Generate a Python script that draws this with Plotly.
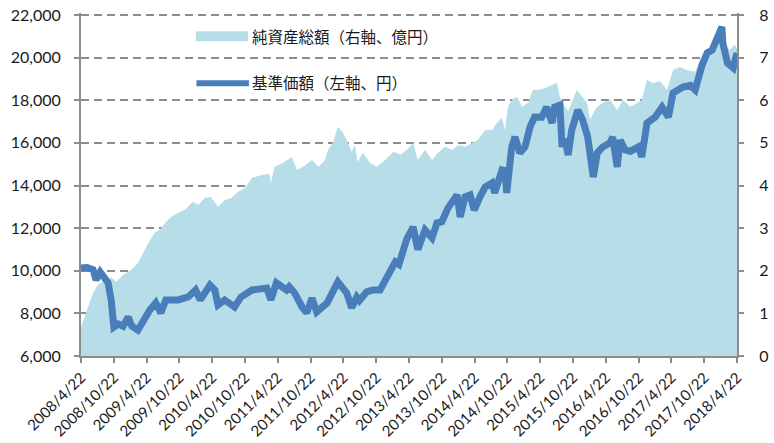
import plotly.graph_objects as go

# 基準価額 (left axis, 円)
nav_dates = [
    "2008-04-22", "2008-05-25", "2008-06-28", "2008-07-15", "2008-08-07", "2008-09-20",
    "2008-10-07", "2008-10-22", "2008-11-15", "2008-12-12", "2009-01-10", "2009-01-30",
    "2009-03-05", "2009-04-12", "2009-05-10", "2009-06-12", "2009-07-10", "2009-08-07",
    "2009-10-15", "2009-12-10", "2010-01-20", "2010-02-15", "2010-04-10", "2010-05-07",
    "2010-05-25", "2010-07-01", "2010-08-25", "2010-09-30", "2010-11-30", "2011-02-20",
    "2011-03-15", "2011-04-15", "2011-06-10", "2011-06-25", "2011-07-25", "2011-09-05",
    "2011-10-01", "2011-10-30", "2011-11-25", "2012-01-22", "2012-02-25", "2012-03-22",
    "2012-05-10", "2012-06-07", "2012-07-05", "2012-07-20", "2012-08-30", "2012-10-02",
    "2012-11-12", "2012-12-22", "2013-02-05", "2013-02-25", "2013-03-20", "2013-04-10",
    "2013-05-15", "2013-06-10", "2013-07-20", "2013-08-28", "2013-09-25", "2013-10-22",
    "2013-11-25", "2014-01-15", "2014-02-01", "2014-02-28", "2014-03-28", "2014-04-20",
    "2014-05-22", "2014-06-20", "2014-07-28", "2014-08-12", "2014-09-22", "2014-10-08",
    "2014-10-18", "2014-11-15", "2014-12-03", "2014-12-30", "2015-01-28", "2015-02-25",
    "2015-03-22", "2015-05-01", "2015-05-28", "2015-06-28", "2015-07-12", "2015-08-10",
    "2015-08-22", "2015-09-07", "2015-09-25", "2015-10-15", "2015-11-18", "2015-12-15",
    "2016-01-12", "2016-02-05", "2016-02-12", "2016-03-05", "2016-04-05", "2016-05-15",
    "2016-05-30", "2016-06-24", "2016-07-10", "2016-08-07", "2016-09-05", "2016-10-20",
    "2016-11-08", "2016-12-07", "2017-01-22", "2017-03-01", "2017-04-05", "2017-05-01",
    "2017-06-25", "2017-08-05", "2017-09-01", "2017-10-10", "2017-11-07", "2017-12-05",
    "2018-01-01", "2018-01-28", "2018-02-02", "2018-02-28", "2018-04-01", "2018-04-22",
]
nav_values = [
    10130, 10150, 10050, 9570, 9940, 9430,
    8630, 7360, 7500, 7400, 7830, 7400,
    7220, 7830, 8160, 8490, 8020, 8630,
    8630, 8770, 9100, 8630, 9330, 9100,
    8400, 8630, 8300, 8770, 9100, 9190,
    8630, 9430, 9100, 9250, 8960, 8300,
    8020, 8720, 8070, 8490, 9100, 9480,
    8960, 8260, 8770, 8600, 9010, 9100,
    9100, 9710, 10420, 10300, 10840, 11500,
    12050, 11000, 11910, 11540, 12240, 12300,
    12940, 13560, 12520, 13470, 13560, 12850,
    13470, 13930, 14120, 13650, 14730, 14700,
    13650, 15810, 16280, 15530, 15810, 16750,
    17210, 17200, 17680, 16930, 17680, 17770,
    15810, 16200, 15430, 16610, 17540, 17070,
    16280, 14870, 14400, 15530, 15810, 16000,
    16280, 14870, 16130, 15670, 15600, 15810,
    15340, 16930, 17210, 17680, 17210, 18340,
    18620, 18700, 18480, 19660, 20220, 20360,
    20970, 21440, 20690, 19750, 19520, 20220,
]

# 純資産総額 (right axis, 億円)
aum_dates = [
    "2008-04-22", "2008-06-01", "2008-06-28", "2008-07-25", "2008-08-22", "2008-10-07",
    "2008-11-03", "2008-12-12", "2009-01-25", "2009-03-05", "2009-04-01", "2009-05-01",
    "2009-06-07", "2009-07-05", "2009-08-03", "2009-09-05", "2009-10-15", "2009-11-22",
    "2010-01-05", "2010-02-05", "2010-03-12", "2010-04-15", "2010-05-25", "2010-07-01",
    "2010-08-05", "2010-09-12", "2010-10-22", "2010-11-30", "2011-01-30", "2011-03-08",
    "2011-03-15", "2011-04-05", "2011-05-20", "2011-07-10", "2011-08-07", "2011-09-10",
    "2011-10-30", "2011-12-05", "2012-01-10", "2012-01-28", "2012-02-25", "2012-03-22",
    "2012-04-18", "2012-05-10", "2012-06-07", "2012-06-25", "2012-07-10", "2012-08-08",
    "2012-09-18", "2012-10-25", "2012-11-28", "2012-12-28", "2013-01-25", "2013-03-05",
    "2013-04-10", "2013-05-15", "2013-06-10", "2013-07-20", "2013-08-28", "2013-09-30",
    "2013-11-08", "2013-12-18", "2014-01-22", "2014-02-28", "2014-04-07", "2014-05-10",
    "2014-06-20", "2014-07-28", "2014-08-25", "2014-09-22", "2014-10-08", "2014-10-25",
    "2014-11-15", "2014-12-15", "2015-01-12", "2015-02-15", "2015-03-12", "2015-04-10",
    "2015-05-20", "2015-06-28", "2015-07-25", "2015-08-10", "2015-09-07", "2015-09-25",
    "2015-10-15", "2015-11-12", "2015-12-10", "2016-01-08", "2016-01-25", "2016-02-12",
    "2016-03-05", "2016-04-05", "2016-05-15", "2016-06-24", "2016-07-25", "2016-09-05",
    "2016-10-15", "2016-11-08", "2016-12-07", "2017-01-10", "2017-02-18", "2017-03-28",
    "2017-05-01", "2017-06-08", "2017-07-15", "2017-09-01", "2017-09-28", "2017-11-07",
    "2017-12-05", "2018-01-01", "2018-01-28", "2018-02-15", "2018-03-12", "2018-04-10",
    "2018-04-22",
]
aum_values = [
    0.68, 1.15, 1.48, 1.67, 1.75, 1.85,
    1.74, 1.90, 2.02, 2.18, 2.42, 2.65,
    2.89, 2.96, 3.12, 3.26, 3.36, 3.43,
    3.62, 3.55, 3.71, 3.73, 3.50, 3.66,
    3.70, 3.85, 3.94, 4.18, 4.25, 4.27,
    4.06, 4.44, 4.53, 4.67, 4.37, 4.44,
    4.60, 4.44, 4.60, 4.84, 5.02, 5.38,
    5.25, 5.07, 4.79, 4.95, 4.55, 4.77,
    4.53, 4.44, 4.55, 4.67, 4.79, 4.72,
    4.84, 5.00, 4.60, 4.84, 4.60, 4.77,
    4.91, 4.84, 4.95, 4.91, 5.00, 5.07,
    5.30, 5.30, 5.47, 5.59, 5.30, 5.85,
    6.01, 6.08, 5.85, 5.95, 6.24, 6.24,
    6.29, 6.36, 6.41, 6.08, 5.85, 5.75,
    5.95, 6.24, 6.10, 5.94, 5.54, 5.70,
    5.85, 5.94, 6.01, 5.77, 6.01, 5.85,
    5.94, 6.01, 6.48, 6.40, 6.45, 6.24,
    6.71, 6.78, 6.71, 6.67, 6.95, 7.18,
    7.25, 7.42, 7.65, 7.30, 7.18, 7.30,
    7.20,
]

tick_dates = [
    "2008-04-22", "2008-10-22", "2009-04-22", "2009-10-22", "2010-04-22", "2010-10-22",
    "2011-04-22", "2011-10-22", "2012-04-22", "2012-10-22", "2013-04-22", "2013-10-22",
    "2014-04-22", "2014-10-22", "2015-04-22", "2015-10-22", "2016-04-22", "2016-10-22",
    "2017-04-22", "2017-10-22", "2018-04-22",
]
tick_labels = [
    "2008/4/22", "2008/10/22", "2009/4/22", "2009/10/22", "2010/4/22", "2010/10/22",
    "2011/4/22", "2011/10/22", "2012/4/22", "2012/10/22", "2013/4/22", "2013/10/22",
    "2014/4/22", "2014/10/22", "2015/4/22", "2015/10/22", "2016/4/22", "2016/10/22",
    "2017/4/22", "2017/10/22", "2018/4/22",
]

area_name = "純資産総額（右軸、億円）"
line_name = "基準価額（左軸、円）"

AREA_COLOR = "#B7DEE8"
LINE_COLOR = "#4A7EBB"
AXIS_COLOR = "#8C8C8C"
TICK_FONT = dict(family="Lato, Carlito, sans-serif", size=16, color="#1a1a1a")
XTICK_FONT = dict(family="Lato, Carlito, sans-serif", size=15, color="#1a1a1a")
LEGEND_FONT = dict(family="Noto Sans CJK JP", size=15.5, color="#1a1a1a")

fig = go.Figure()
fig.add_trace(go.Scatter(
    x=aum_dates, y=aum_values, name=area_name, yaxis="y",
    mode="lines", fill="tozeroy", fillcolor=AREA_COLOR,
    line=dict(width=0, color=AREA_COLOR), showlegend=False,
))
fig.add_trace(go.Scatter(
    x=nav_dates, y=nav_values, name=line_name, yaxis="y2",
    mode="lines", line=dict(width=7, color=LINE_COLOR), showlegend=False,
))

# The plot area reaches 2px above the 22,000 gridline so that plotly keeps that gridline.
fig.update_layout(
    width=774, height=443,
    margin=dict(l=81, r=37, t=13, b=87),
    paper_bgcolor="white", plot_bgcolor="white",
    showlegend=False,
    xaxis=dict(
        type="date", range=["2008-04-22", "2018-04-22"],
        tickmode="array", tickvals=tick_dates, ticktext=tick_labels,
        tickangle=-45, tickfont=XTICK_FONT, automargin=False,
        ticklabeloverflow="allow",
        showline=True, linecolor=AXIS_COLOR, linewidth=2,
        ticks="outside", ticklen=5, tickcolor=AXIS_COLOR, tickwidth=2,
        showgrid=False, zeroline=False,
    ),
    yaxis=dict(
        side="right", range=[0, 8.047], tickvals=[0, 1, 2, 3, 4, 5, 6, 7, 8],
        tickfont=TICK_FONT, automargin=False,
        ticklabeloverflow="allow",
        showline=True, linecolor=AXIS_COLOR, linewidth=2,
        ticks="outside", ticklen=5, tickcolor=AXIS_COLOR, tickwidth=2,
        ticklabelstandoff=12,
        showgrid=False, zeroline=False,
    ),
    yaxis2=dict(
        side="left", overlaying="y", range=[6000, 22094],
        tickvals=[6000, 8000, 10000, 12000, 14000, 16000, 18000, 20000, 22000],
        tickformat=",d", tickfont=TICK_FONT, automargin=False,
        ticklabeloverflow="allow",
        showline=True, linecolor=AXIS_COLOR, linewidth=2,
        ticks="outside", ticklen=5, tickcolor=AXIS_COLOR, tickwidth=2,
        ticklabelstandoff=10,
        showgrid=True, gridcolor=AXIS_COLOR, gridwidth=2, griddash="8px,5px",
        zeroline=False,
    ),
)

# legend drawn inside the plot, as in the original
fig.add_shape(type="rect", xref="paper", yref="paper",
              x0=0.175, x1=0.2546, y0=0.918, y1=0.947,
              fillcolor=AREA_COLOR, line=dict(width=0))
fig.add_shape(type="line", xref="paper", yref="paper",
              x0=0.176, x1=0.256, y0=0.795, y1=0.795,
              line=dict(color=LINE_COLOR, width=6))
fig.add_annotation(xref="paper", yref="paper", x=0.258, y=0.9326,
                   xanchor="left", yanchor="middle", text=area_name,
                   showarrow=False, font=LEGEND_FONT)
fig.add_annotation(xref="paper", yref="paper", x=0.258, y=0.80,
                   xanchor="left", yanchor="middle", text=line_name,
                   showarrow=False, font=LEGEND_FONT)

# remove the page's default 8px body margin so the figure fills the window exactly
fig.write_html("out.html",
               config={"displayModeBar": False},
               post_script="document.body.style.margin='0';document.body.style.overflow='hidden';")
